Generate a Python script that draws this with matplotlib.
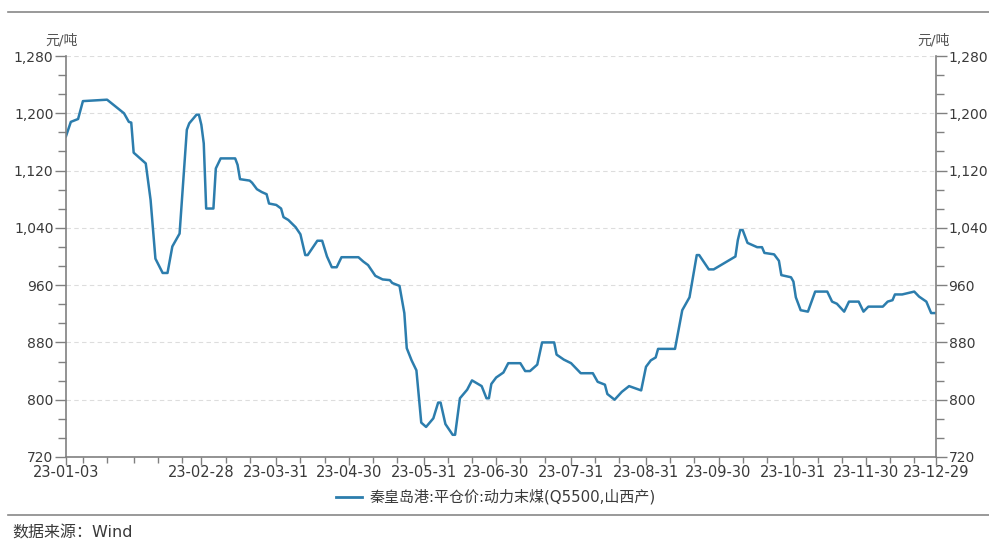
import matplotlib
matplotlib.use("Agg")
import matplotlib.pyplot as plt
import matplotlib.ticker as mticker
import pandas as pd

plt.rcParams['font.family'] = ['DejaVu Sans', 'Noto Sans CJK SC']

# 秦皇岛港 平仓价 动力末煤(Q5500,山西产), 元/吨
dates = ["2023-01-03", "2023-01-05", "2023-01-08", "2023-01-10", "2023-01-20", "2023-01-27",
         "2023-01-29", "2023-01-30", "2023-01-31", "2023-02-05", "2023-02-07", "2023-02-09",
         "2023-02-12", "2023-02-14", "2023-02-16", "2023-02-19", "2023-02-22", "2023-02-23",
         "2023-02-26", "2023-02-27", "2023-02-28", "2023-03-01", "2023-03-02", "2023-03-05",
         "2023-03-06", "2023-03-08", "2023-03-14", "2023-03-15", "2023-03-16", "2023-03-20",
         "2023-03-21", "2023-03-23", "2023-03-25", "2023-03-27", "2023-03-28", "2023-03-31",
         "2023-04-02", "2023-04-03", "2023-04-05", "2023-04-08", "2023-04-10", "2023-04-12",
         "2023-04-13", "2023-04-17", "2023-04-19", "2023-04-21", "2023-04-23", "2023-04-25",
         "2023-04-27", "2023-05-04", "2023-05-06", "2023-05-08", "2023-05-11", "2023-05-14",
         "2023-05-17", "2023-05-18", "2023-05-21", "2023-05-22", "2023-05-23", "2023-05-24",
         "2023-05-26", "2023-05-28", "2023-05-30", "2023-06-01", "2023-06-04", "2023-06-06",
         "2023-06-07", "2023-06-09", "2023-06-12", "2023-06-13", "2023-06-15", "2023-06-18",
         "2023-06-20", "2023-06-24", "2023-06-26", "2023-06-27", "2023-06-28", "2023-06-30",
         "2023-07-03", "2023-07-05", "2023-07-10", "2023-07-12", "2023-07-14", "2023-07-17",
         "2023-07-19", "2023-07-24", "2023-07-25", "2023-07-28", "2023-07-31", "2023-08-04",
         "2023-08-09", "2023-08-11", "2023-08-14", "2023-08-15", "2023-08-18", "2023-08-21",
         "2023-08-24", "2023-08-29", "2023-08-31", "2023-09-02", "2023-09-04", "2023-09-05",
         "2023-09-12", "2023-09-15", "2023-09-18", "2023-09-21", "2023-09-22", "2023-09-26",
         "2023-09-28", "2023-10-07", "2023-10-08", "2023-10-09", "2023-10-10", "2023-10-12",
         "2023-10-16", "2023-10-18", "2023-10-19", "2023-10-23", "2023-10-25", "2023-10-26",
         "2023-10-30", "2023-10-31", "2023-11-01", "2023-11-03", "2023-11-06", "2023-11-09",
         "2023-11-14", "2023-11-16", "2023-11-18", "2023-11-21", "2023-11-23", "2023-11-27",
         "2023-11-29", "2023-12-01", "2023-12-07", "2023-12-09", "2023-12-11", "2023-12-12",
         "2023-12-15", "2023-12-20", "2023-12-22", "2023-12-25", "2023-12-27", "2023-12-29"]
prices = [1168, 1188, 1192, 1217, 1219, 1200,
          1188, 1187, 1145, 1130, 1079, 997,
          977, 977, 1014, 1032, 1177, 1186,
          1198, 1198, 1184, 1158, 1067, 1067,
          1123, 1137, 1137, 1128, 1108, 1106,
          1103, 1094, 1090, 1087, 1074, 1072,
          1067, 1055, 1051, 1041, 1031, 1002,
          1002, 1022, 1022, 1000, 985, 985,
          999, 999, 993, 988, 973, 968,
          967, 963, 959, 940, 921, 872,
          855, 841, 768, 762, 774, 796,
          796, 766, 751, 751, 802, 814,
          827, 819, 802, 802, 822, 831,
          838, 851, 851, 840, 840, 849,
          880, 880, 863, 856, 851, 837,
          837, 825, 821, 808, 800, 811,
          819, 813, 846, 855, 859, 871,
          871, 925, 943, 1002, 1002, 982,
          982, 1000, 1023, 1037, 1037, 1019,
          1013, 1013, 1005, 1003, 994, 974,
          971, 965, 943, 925, 923, 951,
          951, 937, 934, 923, 937, 937,
          923, 930, 930, 937, 939, 947,
          947, 951, 944, 937, 921, 921]

tick_dates = ["2023-01-03", "2023-02-28", "2023-03-31", "2023-04-30", "2023-05-31", "2023-06-30",
              "2023-07-31", "2023-08-31", "2023-09-30", "2023-10-31", "2023-11-30", "2023-12-29"]
y_ticks = [720, 800, 880, 960, 1040, 1120, 1200, 1280]
series_name = "秦皇岛港:平仓价:动力末煤(Q5500,山西产)"
unit = "元/吨"
source = "数据来源：Wind"

x = pd.to_datetime(dates)
ticks = pd.to_datetime(tick_dates)

text_c = "#3a3a3a"
axis_c = "#808080"
line_c = "#2c7dad"

fig = plt.figure(figsize=(9.89, 5.41), dpi=100)
ax = fig.add_axes([66/989, 84/541, (936-66)/989, (457-56)/541])

ax.plot(x, prices, color=line_c, lw=1.8, solid_joinstyle="round")

ax.set_xlim(ticks[0], ticks[-1])
ax.set_ylim(720, 1280)
ax.set_yticks(y_ticks)
ax.yaxis.set_minor_locator(mticker.MultipleLocator(80/3))
ax.yaxis.set_major_formatter(mticker.FuncFormatter(lambda v, p: f"{int(v):,}"))
ax.grid(axis="y", which="major", color="#dddddd", ls=(0, (4, 3)), lw=0.8)

ax.set_xticks(ticks)
ax.set_xticklabels([d.strftime("%y-%m-%d") for d in ticks])
minor = []
for m in range(1, 13):
    for d in (10, 20):
        minor.append(pd.Timestamp(2023, m, d))
    minor.append(pd.Timestamp(2023, m, 1) + pd.offsets.MonthEnd(0))
ax.set_xticks([d for d in minor if ticks[0] < d < ticks[-1]], minor=True)

ax.spines["top"].set_visible(False)
for s in ["left", "right", "bottom"]:
    ax.spines[s].set_color(axis_c)
    ax.spines[s].set_linewidth(1.2)

ax.tick_params(axis="y", which="major", length=8, width=1, color=axis_c,
               labelsize=10, labelcolor=text_c, pad=1)
ax.tick_params(axis="y", which="minor", length=6, width=1, color=axis_c)
ax.tick_params(axis="y", which="both", left=True, right=True, labelleft=True, labelright=True)
ax.tick_params(axis="x", which="major", length=6, width=1, color=axis_c,
               labelsize=10.5, labelcolor=text_c, pad=0)
ax.tick_params(axis="x", which="minor", length=4, width=1, color=axis_c)

fig.text(45/989, 1-40/541, unit, fontsize=10, color="#555555", va="center", ha="left")
fig.text(917/989, 1-40/541, unit, fontsize=10, color="#555555", va="center", ha="left")

# top and bottom rules
fig.add_artist(plt.Line2D([8/989, 1], [1-12/541, 1-12/541], color="#888888", lw=1.2))
fig.add_artist(plt.Line2D([8/989, 1], [1-515/541, 1-515/541], color="#888888", lw=1.2))

# legend
fig.add_artist(plt.Line2D([336/989, 362/989], [1-497/541, 1-497/541], color=line_c, lw=2))
fig.text(370/989, 1-497/541, series_name, fontsize=10.8, color=text_c, va="center", ha="left")

fig.text(12/989, 1-533/541, source, fontsize=11.5, color=text_c, va="center", ha="left")

fig.savefig("out.png", dpi=100)
